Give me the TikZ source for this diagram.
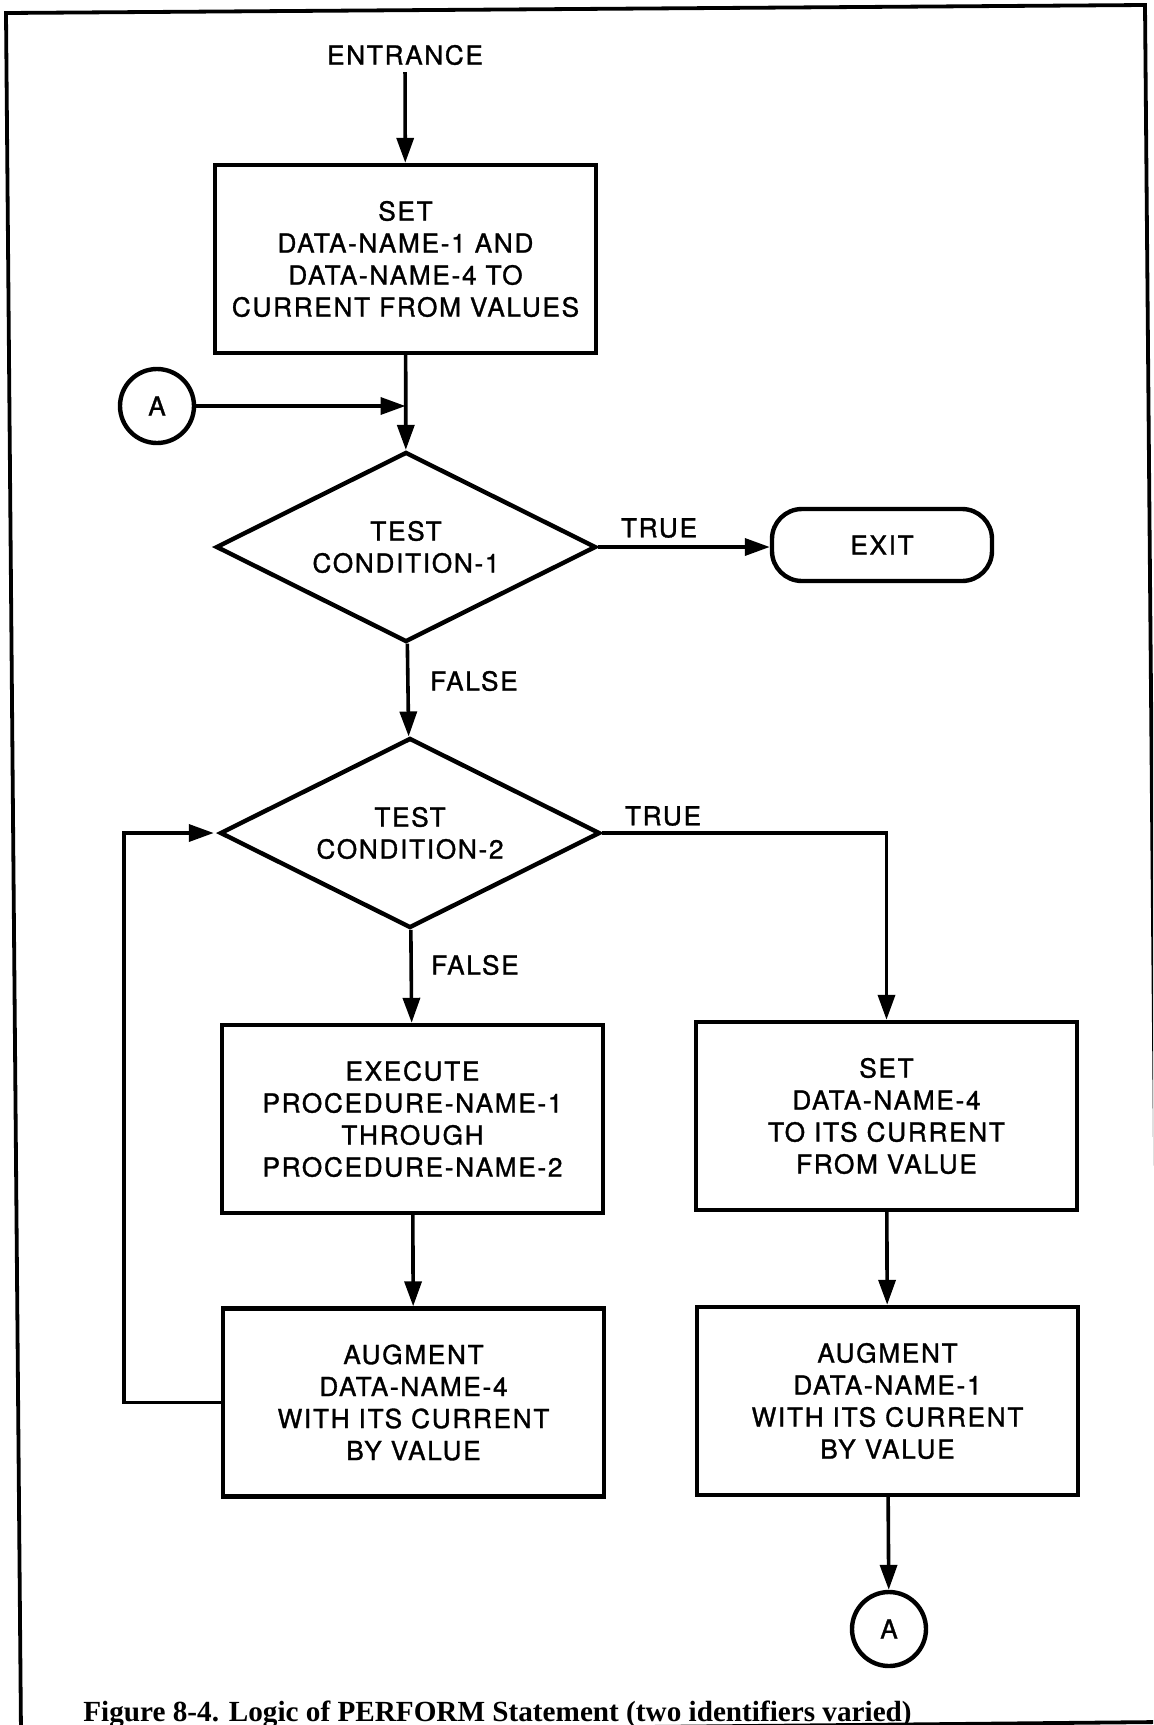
\documentclass[tikz,border=0pt]{standalone}
\usepackage{fontspec}
\usetikzlibrary{shapes.geometric,arrows.meta,calc}
\newfontfamily\flowfont[LetterSpace=6.5,FakeBold=1.2]{TeX Gyre Heros}
\newfontfamily\capfont{Liberation Serif}

\begin{document}
\begin{tikzpicture}[x=0.5pt,y=-0.5pt,
  every node/.style={font=\flowfont\fontsize{13.1}{16}\selectfont},
  box/.style={draw,line width=2.2pt,rectangle,align=center,
    minimum width=190.5pt,minimum height=94pt,inner sep=0pt},
  test/.style={draw,line width=2.2pt,diamond,aspect=2,align=center,
    minimum width=190pt,minimum height=95pt,inner sep=0pt},
  conn/.style={draw,line width=2.2pt,circle,minimum size=37pt,inner sep=0pt},
  term/.style={draw,line width=2.2pt,rectangle,rounded corners=15pt,
    minimum width=110pt,minimum height=36pt},
  flow/.style={line width=1.8pt,-{Triangle[length=12.5pt,width=8.5pt]}},
  lbl/.style={inner sep=0pt}
]
\useasboundingbox (0,0) rectangle (1153,1725);

% outer frame of the figure
\begin{scope}
  \clip (0,0) rectangle (1153,1725);
  \draw[line width=1.9pt] (6,13) -- (1145,5) -- (1160,1722) -- (21,1733) -- cycle;
\end{scope}

% left column
\node (entr) at (405,55) {ENTRANCE};
\node[box] (set1) at (405.5,259) {SET\\DATA-NAME-1 AND\\DATA-NAME-4 TO\\CURRENT FROM VALUES};
\node[conn] (a1) at (157,406) {A};
\node[test] (d1) at (406,547) {TEST\\CONDITION-1};
\node[term] (exit) at (882,545) {EXIT};
\node[test] (d2) at (410,833) {TEST\\CONDITION-2};
\node[box] (exec) at (412.5,1119) {EXECUTE\\PROCEDURE-NAME-1\\THROUGH\\PROCEDURE-NAME-2};
\node[box] (aug4) at (413.5,1402.5) {AUGMENT\\DATA-NAME-4\\WITH ITS CURRENT\\BY VALUE};

% right column
\node[box] (set2) at (886.5,1116) {SET\\DATA-NAME-4\\TO ITS CURRENT\\FROM VALUE};
\node[box] (aug1) at (887.5,1401) {AUGMENT\\DATA-NAME-1\\WITH ITS CURRENT\\BY VALUE};
\node[conn] (a2) at (889,1629) {A};

% branch labels
\node[lbl] (t1) at (659,528) {TRUE};
\node[lbl] (f1) at (474,681) {FALSE};
\node[lbl] (t2) at (663,816) {TRUE};
\node[lbl] (f2) at (475,965) {FALSE};

% connectors
\coordinate (j1) at (a1 -| set1.south);
\coordinate (loopx) at (124,0);
\draw[flow] (entr) -- (set1);
\draw[flow] (set1) -- (d1);
\draw[flow] (a1) -- (j1);
\draw[flow] (d1.east) -- (d1.east -| exit.west);
\draw[flow] (d1) -- (d2);
\draw[flow] (d2.east) -| (set2.north);
\draw[flow] (d2) -- (exec);
\draw[flow] (exec) -- (aug4);
\draw[flow,shorten >=2pt] (aug4.west) -- (aug4.west -| loopx) |- (d2.west);
\draw[flow] (set2) -- (aug1);
\draw[flow] (aug1) -- (a2);

% caption
\node[font=\capfont\bfseries\fontsize{14.6}{17}\selectfont,anchor=base west,inner sep=0pt]
  (cap) at (83,1721) {Figure 8-4. Logic of PERFORM Statement (two identifiers varied)};
\end{tikzpicture}
\end{document}
